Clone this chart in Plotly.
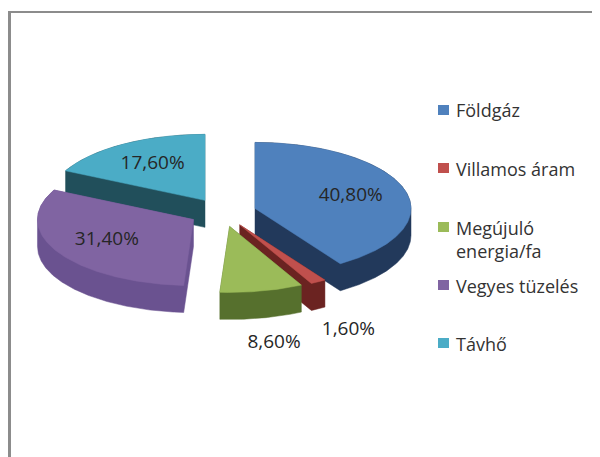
import numpy as np
import plotly.graph_objects as go

# ---- data ----
categories = ["Földgáz", "Villamos áram", "Megújuló<br>energia/fa", "Vegyes tüzelés", "Távhő"]
shares = [40.8, 1.6, 8.6, 31.4, 17.6]
top_colors = ["#4F81BD", "#C0504D", "#9BBB59", "#8064A2", "#4BACC6"]
side_colors = ["#22395B", "#6B2321", "#56702D", "#6A5290", "#214F5B"]
label_inside = [True, False, False, True, True]

# ---- geometry / style ----
W, H = 600, 457
SH = 8.0                   # compensation for the page's body margin
CX, CY = 222.7 - SH, 212.5 - SH   # pie centre (px)
A, B = 156.0, 66.0         # horizontal / vertical radius (px) -> 3D tilt
DEPTH = 27.0 / B           # extrusion depth in y units
EXPLODE = 0.216            # explosion distance (fraction of radius)
F_IN, F_OUT = 0.64, 1.6    # label radii
TXT = "#262626"


def hull(xs, ys):
    pts = sorted(set(zip(np.round(xs, 6), np.round(ys, 6))))
    def cross(o, a, b):
        return (a[0] - o[0]) * (b[1] - o[1]) - (a[1] - o[1]) * (b[0] - o[0])
    lower, upper = [], []
    for p in pts:
        while len(lower) >= 2 and cross(lower[-2], lower[-1], p) <= 0:
            lower.pop()
        lower.append(p)
    for p in reversed(pts):
        while len(upper) >= 2 and cross(upper[-2], upper[-1], p) <= 0:
            upper.pop()
        upper.append(p)
    h = lower[:-1] + upper[:-1]
    h.append(h[0])
    return [p[0] for p in h], [p[1] for p in h]


total = float(sum(shares))
bounds = np.concatenate([[0.0], np.cumsum(shares)]) / total * 2 * np.pi
mids = (bounds[:-1] + bounds[1:]) / 2

fig = go.Figure()
order = sorted(range(len(shares)), key=lambda i: -np.cos(mids[i]))  # back to front
for i in order:
    t0, t1, m = bounds[i], bounds[i + 1], mids[i]
    ox, oy = EXPLODE * np.sin(m), EXPLODE * np.cos(m)
    th = np.linspace(t0, t1, max(int(np.degrees(t1 - t0) * 2), 4))
    tx = np.concatenate([[ox], ox + np.sin(th), [ox]])
    ty = np.concatenate([[oy], oy + np.cos(th), [oy]])
    hx, hy = hull(np.concatenate([tx, tx]), np.concatenate([ty, ty - DEPTH]))
    fig.add_trace(go.Scatter(x=hx, y=hy, mode="lines", fill="toself",
                             fillcolor=side_colors[i], line=dict(width=0.5, color=side_colors[i]),
                             hoverinfo="skip", showlegend=False))
    name = categories[i].replace("<br>", " ")
    fig.add_trace(go.Scatter(x=tx, y=ty, mode="lines", fill="toself",
                             fillcolor=top_colors[i], line=dict(width=0.5, color=top_colors[i]),
                             name=name, showlegend=False, hoveron="fills",
                             text=f"{name}: {shares[i]:.2f}%".replace(".", ","),
                             hoverinfo="text"))

labels = [f"{v:.2f}".replace(".", ",") + "%" for v in shares]
idx_in = [i for i in range(len(shares)) if label_inside[i]]
idx_out = [i for i in range(len(shares)) if not label_inside[i]]
lx = [(EXPLODE + F_IN) * np.sin(mids[i]) for i in idx_in] + [F_OUT * np.sin(mids[i]) for i in idx_out]
ly = [(EXPLODE + F_IN) * np.cos(mids[i]) for i in idx_in] + [F_OUT * np.cos(mids[i]) - DEPTH for i in idx_out]
lt = [labels[i] for i in idx_in] + [labels[i] for i in idx_out]

fig.add_trace(go.Scatter(x=lx, y=ly, text=lt, mode="text",
                         textposition="middle center", hoverinfo="skip", showlegend=False,
                         textfont=dict(family="Open Sans", size=19, color=TXT)))

# frame
shapes = [
    dict(type="line", xref="paper", yref="paper", x0=(9.5 - SH) / W, x1=(9.5 - SH) / W,
         y0=0, y1=1 - (12 - SH) / H, line=dict(color="#8C8C8C", width=3)),
    dict(type="line", xref="paper", yref="paper", x0=(8 - SH) / W, x1=1,
         y0=1 - (12 - SH) / H, y1=1 - (12 - SH) / H, line=dict(color="#8C8C8C", width=2)),
]

# legend
legend_y = [110, 168, 227, 285, 343]
annotations = []
for name, col, y in zip(categories, top_colors, legend_y):
    y = y - SH
    shapes.append(dict(type="rect", xref="paper", yref="paper",
                       x0=(438 - SH) / W, x1=(449 - SH) / W, y0=1 - (y + 5) / H, y1=1 - (y - 5) / H,
                       fillcolor=col, line=dict(width=0)))
    annotations.append(dict(x=(454 - SH) / W, y=1 - (y - 13.5) / H, xref="paper", yref="paper",
                            text=name, showarrow=False, xanchor="left", yanchor="top",
                            align="left",
                            font=dict(family="Open Sans", size=18, color="#333333")))

fig.update_layout(width=W, height=H, margin=dict(l=0, r=0, t=0, b=0),
                  paper_bgcolor="white", plot_bgcolor="white",
                  xaxis=dict(range=[-CX / A, (W - CX) / A], visible=False, fixedrange=True),
                  yaxis=dict(range=[-(H - CY) / B, CY / B], visible=False, fixedrange=True),
                  shapes=shapes, annotations=annotations, hovermode="closest")

fig.write_html("out.html")
